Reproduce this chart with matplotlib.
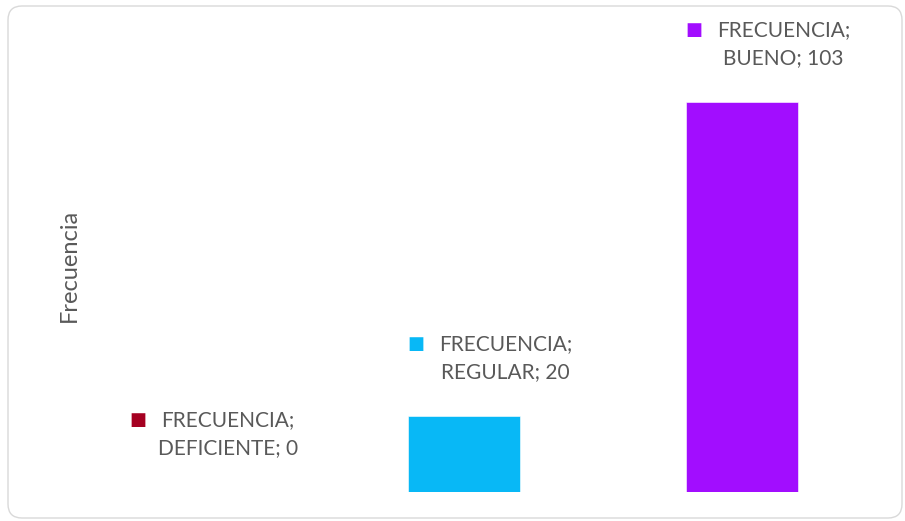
import matplotlib.pyplot as plt
from matplotlib.patches import FancyBboxPatch
from matplotlib.transforms import IdentityTransform

# Data
categorias = ["DEFICIENTE", "REGULAR", "BUENO"]
frecuencia = [0, 20, 103]
serie = "FRECUENCIA"
colores = ["#A50021", "#08B8F6", "#A20DFF"]

plt.rcParams['font.family'] = ['Lato', 'DejaVu Sans']
gris = "#595959"

fig = plt.figure(figsize=(9.05, 5.21), dpi=100)
ax = fig.add_axes([0.052, 0.0557, 0.9215, 0.8713])

x = list(range(len(categorias)))
ax.bar(x, frecuencia, width=0.4, color=colores, edgecolor="white", linewidth=0.4)

ax.set_xlim(-0.5, len(categorias) - 0.5)
ax.set_ylim(0, 120)
ax.set_xticks([])
ax.set_yticks([])
for s in ax.spines.values():
    s.set_visible(False)

ax.set_ylabel("Frecuencia", fontsize=17, color=gris)
ax.yaxis.set_label_coords(0.039, 0.5)

# data labels with legend key
for i, (cat, val, col) in enumerate(zip(categorias, frecuencia, colores)):
    ax.annotate(serie + ";\n" + cat + "; " + str(val), xy=(i, val),
                xytext=(30, 42), textcoords="offset points",
                ha="center", va="center", multialignment="center",
                fontsize=15, color=gris, linespacing=1.5)
    ax.annotate("\u25A0", xy=(i, val), xytext=(-35, 52), textcoords="offset points",
                ha="center", va="center", fontsize=13, color=col,
                family="DejaVu Sans")

# rounded chart border
borde = FancyBboxPatch((8, 3), 894, 512, boxstyle="round,pad=0,rounding_size=14",
                       transform=IdentityTransform(), fill=False,
                       edgecolor="#D9D9D9", linewidth=1)
fig.patches.append(borde)

fig.savefig("out.png", dpi=100)
